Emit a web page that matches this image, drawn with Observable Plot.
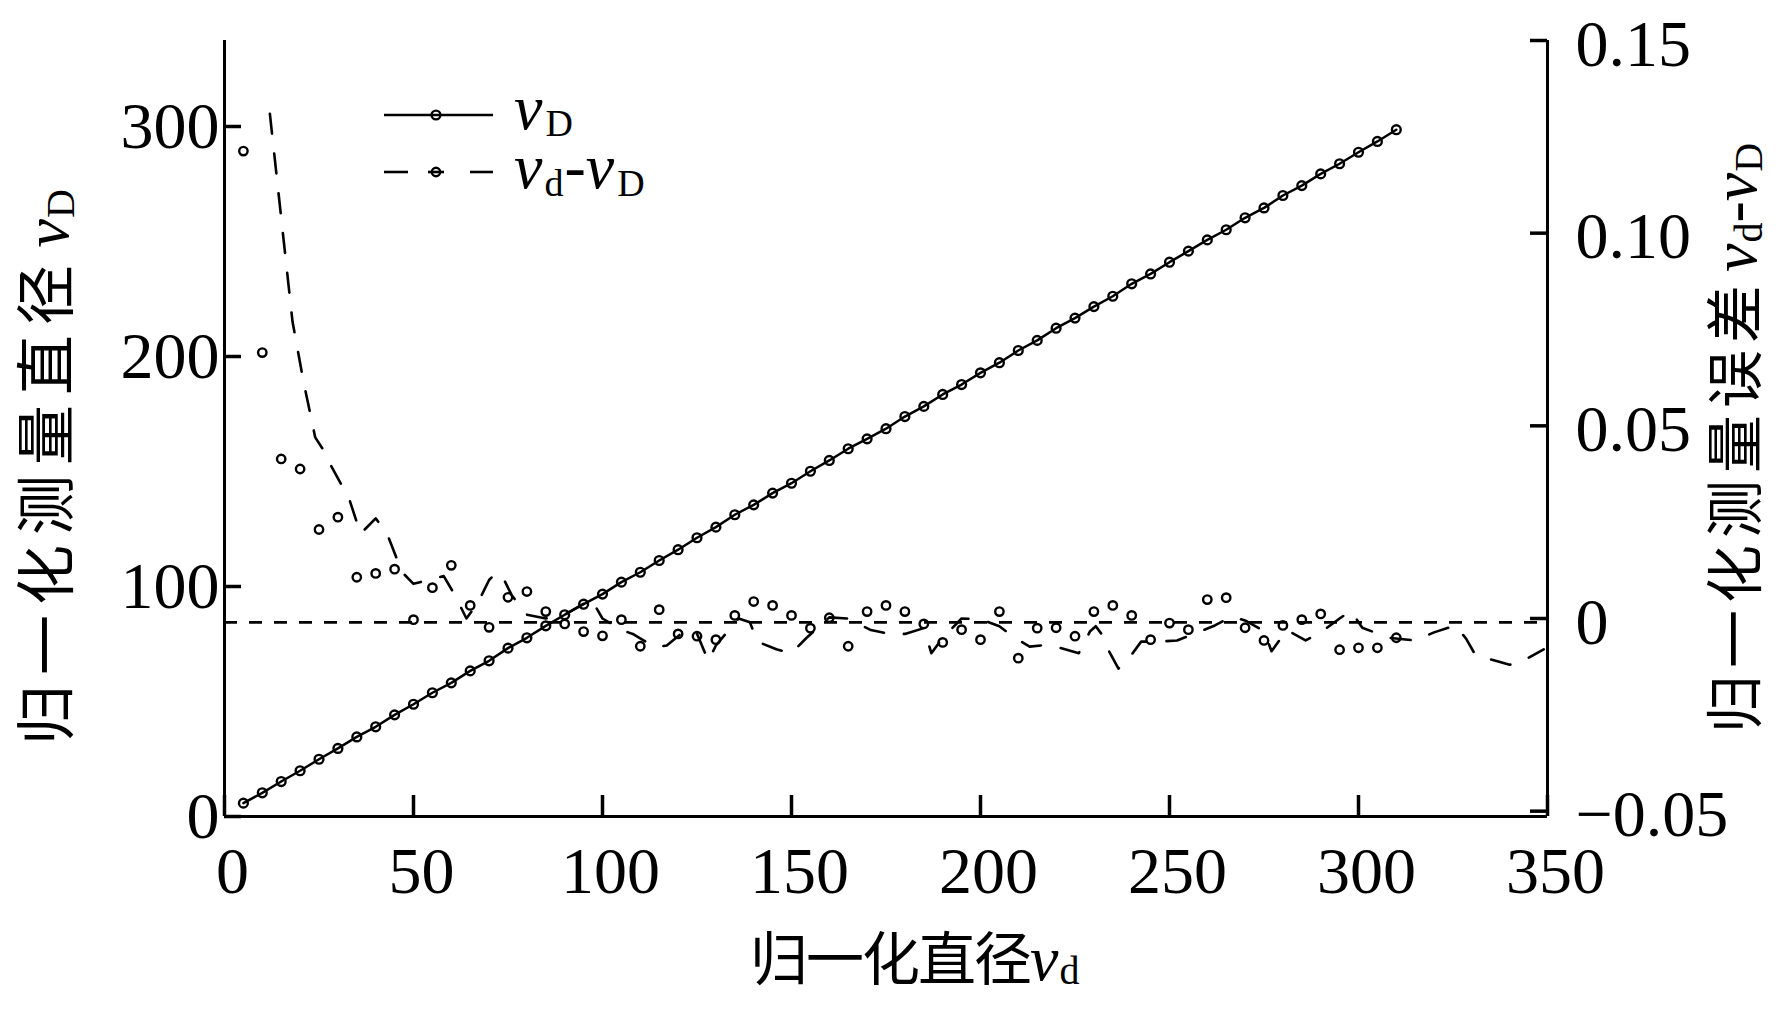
<!DOCTYPE html>
<html>
<head>
<meta charset="utf-8">
<script src="https://cdn.jsdelivr.net/npm/d3@7"></script>
<script src="https://cdn.jsdelivr.net/npm/@observablehq/plot@0.6"></script>
<style>
  html, body { margin: 0; padding: 0; background: #fff; }
  #chart { position: relative; width: 1784px; height: 1009px; }
</style>
</head>
<body>
<div id="chart"></div>
<script>
// ---- data ----
const vd = [5,10,15,20,25,30,35,40,45,50,55,60,65,70,75,80,85,90,95,100,
  105,110,115,120,125,130,135,140,145,150,155,160,165,170,175,180,185,190,195,200,
  205,210,215,220,225,230,235,240,245,250,255,260,265,270,275,280,285,290,295,300,305,310];
const vD = [5.8,10.3,15.2,19.9,24.9,29.6,34.6,39.0,44.2,48.8,53.8,58.1,63.3,67.7,73.2,77.7,82.9,87.7,92.3,96.7,
  101.9,106.2,111.3,116.0,121.2,125.8,131.2,135.5,140.6,144.9,150.1,154.8,159.9,164.2,168.6,173.9,178.3,183.5,187.8,192.9,
  197.3,202.6,207.0,212.3,216.7,221.7,226.2,231.6,235.9,241.0,245.8,250.7,255.1,260.3,264.6,270.0,274.3,279.4,283.8,288.8,293.5,298.6];
const errDots = [0.1213,0.0690,0.0414,0.0388,0.0231,0.0263,0.0107,0.0117,0.0128,-0.0003,0.0080,0.0138,0.0034,-0.0023,0.0055,0.0070,0.0018,-0.0014,-0.0034,-0.0045,
  -0.0003,-0.0072,0.0023,-0.0040,-0.0046,-0.0055,0.0008,0.0044,0.0034,0.0008,-0.0025,0.0002,-0.0072,0.0018,0.0034,0.0018,-0.0014,-0.0062,-0.0029,-0.0055,
  0.0018,-0.0103,-0.0025,-0.0024,-0.0046,0.0018,0.0034,0.0008,-0.0055,-0.0012,-0.0029,0.0049,0.0054,-0.0024,-0.0057,-0.0018,-0.0003,0.0012,-0.0081,-0.0076,-0.0076,-0.0050];
const errLineX = [12,15,18,21,24,26,28,33,36,40,43,47,50,54,58,61,64,67,70,72,
  74,76,80,85,90,97,100,105,108,114,117,122,125,128,130,136,139,141,146,150,
  154,160,165,171,176,180,185,187,190,195,200,205,209,213,216,221,226,229,230.5,232,
  234,236.5,239.5,242.5,247,252,256.5,262,266.5,270,275,277,281,286,290,295,298,301,308,315,
  320,325.7,328.5,331,336.5,340,342,346.5,349];
const errLineY = [0.131,0.104,0.077,0.061,0.047,0.044,0.040,0.031,0.022,0.026,0.022,0.012,0.009,0.010,0.011,0.006,0.000,0.004,0.010,0.012,
  0.010,0.006,0.001,0.000,0.001,0.005,0.000,-0.003,-0.004,-0.0075,-0.007,-0.003,-0.004,-0.011,-0.007,0.000,-0.001,-0.006,-0.008,-0.009,
  -0.005,0.0003,0.000,-0.003,-0.004,-0.004,-0.0025,-0.009,-0.005,0.000,-0.0002,-0.002,-0.005,-0.0073,-0.007,-0.0076,-0.009,-0.0033,-0.002,-0.004,
  -0.0085,-0.013,-0.010,-0.006,-0.006,-0.0057,-0.004,-0.0018,0.0005,-0.0005,-0.0033,-0.0085,-0.003,-0.0057,-0.0036,0.000,0.002,-0.0024,-0.005,-0.0057,
  -0.0036,-0.0018,-0.0053,-0.0096,-0.011,-0.012,-0.0118,-0.0094,-0.008];
const refErr = [-0.001];
const xTicks = [0,50,100,150,200,250,300,350];
const leftTicks = [0,100,200,300];
const rightTicks = [-0.05,0,0.05,0.10,0.15];
const rightTickLabels = ["\u22120.05","0","0.05","0.10","0.15"];

// ---- scales ----
const xDomain = [0, 350];
const yDomain = [0, 337.39];
// right axis (error) mapped onto left-axis units
const errToLeft = d3.scaleLinear().domain([0, 0.15]).range([86.087, 337.39]);

const vDPts = vd.map((x, i) => ({x, y: vD[i]}));
const errPts = vd.map((x, i) => ({x, e: errDots[i]}));
const errLinePts = errLineX.map((x, i) => ({x, e: errLineY[i]}));
const rightPos = rightTicks.map(t => errToLeft(t));
const rightLabelMap = new Map(rightPos.map((p, i) => [p, rightTickLabels[i]]));

const W = 1784, H = 1009, mT = 40, mB = 193, mL = 224, mR = 237;
const fw = W - mL - mR, fh = H - mT - mB;
const serif = "'Liberation Serif', 'Times New Roman', serif";
const cjk = "'Noto Sans CJK SC', sans-serif";

const chart = Plot.plot({
  width: W, height: H,
  marginTop: mT, marginBottom: mB, marginLeft: mL, marginRight: mR,
  x: {domain: xDomain, label: null},
  y: {domain: yDomain, label: null},
  style: {fontFamily: serif, fontSize: "66px", color: "black", background: "white", overflow: "visible"},
  marks: [
    Plot.ruleY(refErr, {y: d => errToLeft(d), stroke: "black", strokeWidth: 2.6, strokeDasharray: "13,12"}),
    Plot.line(errLinePts, {x: "x", y: d => errToLeft(d.e), stroke: "black", strokeWidth: 2.6, strokeDasharray: "20,20"}),
    Plot.dot(errPts, {x: "x", y: d => errToLeft(d.e), r: 4.2, stroke: "black", strokeWidth: 2.4, fill: "none"}),
    Plot.line(vDPts, {x: "x", y: "y", stroke: "black", strokeWidth: 2.5}),
    Plot.dot(vDPts, {x: "x", y: "y", r: 4.4, stroke: "black", strokeWidth: 2.4, fill: "none"}),
    // axis lines
    Plot.ruleX(xDomain, {stroke: "black", strokeWidth: 3}),
    Plot.ruleY([0], {stroke: "black", strokeWidth: 3}),
    // inward ticks
    Plot.ruleX(xTicks, {stroke: "black", strokeWidth: 3.5, insetTop: fh - 21}),
    Plot.ruleY(leftTicks, {stroke: "black", strokeWidth: 3.5, insetRight: fw - 17}),
    Plot.ruleY(rightPos, {y: d => d, stroke: "black", strokeWidth: 3.5, insetLeft: fw - 17}),
    // tick labels
    Plot.axisX({ticks: xTicks, tickSize: 0, tickPadding: 30, dx: 8, label: null, tickFormat: d => String(d)}),
    Plot.axisY({ticks: leftTicks, anchor: "left", tickSize: 0, tickPadding: 5, label: null, tickFormat: d => String(d)}),
    Plot.axisY({ticks: rightPos, anchor: "right", tickSize: 0, tickPadding: 28, dy: 4, label: null, tickFormat: d => rightLabelMap.get(d)})
  ]
});
document.getElementById("chart").appendChild(chart);

// ---- titles and legend ----
const svg = d3.select(chart);
const g = svg.append("g").attr("fill", "black").attr("text-anchor", "start");

function addText(parent, parts) {
  parts.forEach(p => {
    const t = parent.append("tspan").text(p.t)
      .attr("font-family", p.f).attr("font-size", p.s);
    if (p.i) t.attr("font-style", "italic");
    if (p.dy) t.attr("dy", p.dy);
    if (p.dx) t.attr("dx", p.dx);
    if (p.ls) t.attr("letter-spacing", p.ls);
  });
}

// bottom title
const bt = g.append("text").attr("x", 750).attr("y", 980).attr("text-anchor", "start");
addText(bt, [
  {t: "归一化直径", f: cjk, s: 58, ls: -2},
  {t: "v", f: serif, s: 64, i: true},
  {t: "d", f: serif, s: 40, dy: 4, dx: 1}
]);

// left title
const lt = g.append("text").attr("text-anchor", "start").attr("transform", "translate(68,745) rotate(-90)");
addText(lt, [
  {t: "归一化测量直径", f: cjk, s: 60, ls: 10},
  {t: " ", f: serif, s: 30},
  {t: "v", f: serif, s: 64, i: true},
  {t: "D", f: serif, s: 40, dy: 6, dx: 1}
]);

// right title
const rt = g.append("text").attr("text-anchor", "start").attr("transform", "translate(1756,733) rotate(-90)");
addText(rt, [
  {t: "归一化测量误差", f: cjk, s: 58, ls: 7},
  {t: " ", f: serif, s: 24},
  {t: "v", f: serif, s: 64, i: true},
  {t: "d", f: serif, s: 40, dy: 6, dx: 1},
  {t: "-", f: serif, s: 64, dy: -6},
  {t: "v", f: serif, s: 64, i: true},
  {t: "D", f: serif, s: 40, dy: 6, dx: 1}
]);

// legend
const lg = svg.append("g").attr("stroke", "black").attr("fill", "none");
lg.append("line").attr("x1", 384).attr("x2", 493).attr("y1", 115).attr("y2", 115).attr("stroke-width", 2.5);
lg.append("circle").attr("cx", 436).attr("cy", 115).attr("r", 4.4).attr("stroke-width", 2.4);
lg.append("line").attr("x1", 384).attr("x2", 408).attr("y1", 172).attr("y2", 172).attr("stroke-width", 2.6);
lg.append("line").attr("x1", 470).attr("x2", 493).attr("y1", 172).attr("y2", 172).attr("stroke-width", 2.6);
lg.append("line").attr("x1", 428).attr("x2", 444).attr("y1", 172).attr("y2", 172).attr("stroke-width", 2.6);
lg.append("circle").attr("cx", 436).attr("cy", 172).attr("r", 4.2).attr("stroke-width", 2.4);

const l1 = g.append("text").attr("x", 514).attr("y", 129).attr("text-anchor", "start");
addText(l1, [
  {t: "v", f: serif, s: 64, i: true},
  {t: "D", f: serif, s: 38, dy: 7, dx: 3}
]);
const l2 = g.append("text").attr("x", 514).attr("y", 188).attr("text-anchor", "start");
addText(l2, [
  {t: "v", f: serif, s: 64, i: true},
  {t: "d", f: serif, s: 38, dy: 8, dx: 2},
  {t: "-", f: serif, s: 64, dy: -8, dx: 1},
  {t: "v", f: serif, s: 64, i: true},
  {t: "D", f: serif, s: 38, dy: 8, dx: 3}
]);
</script>
</body>
</html>
